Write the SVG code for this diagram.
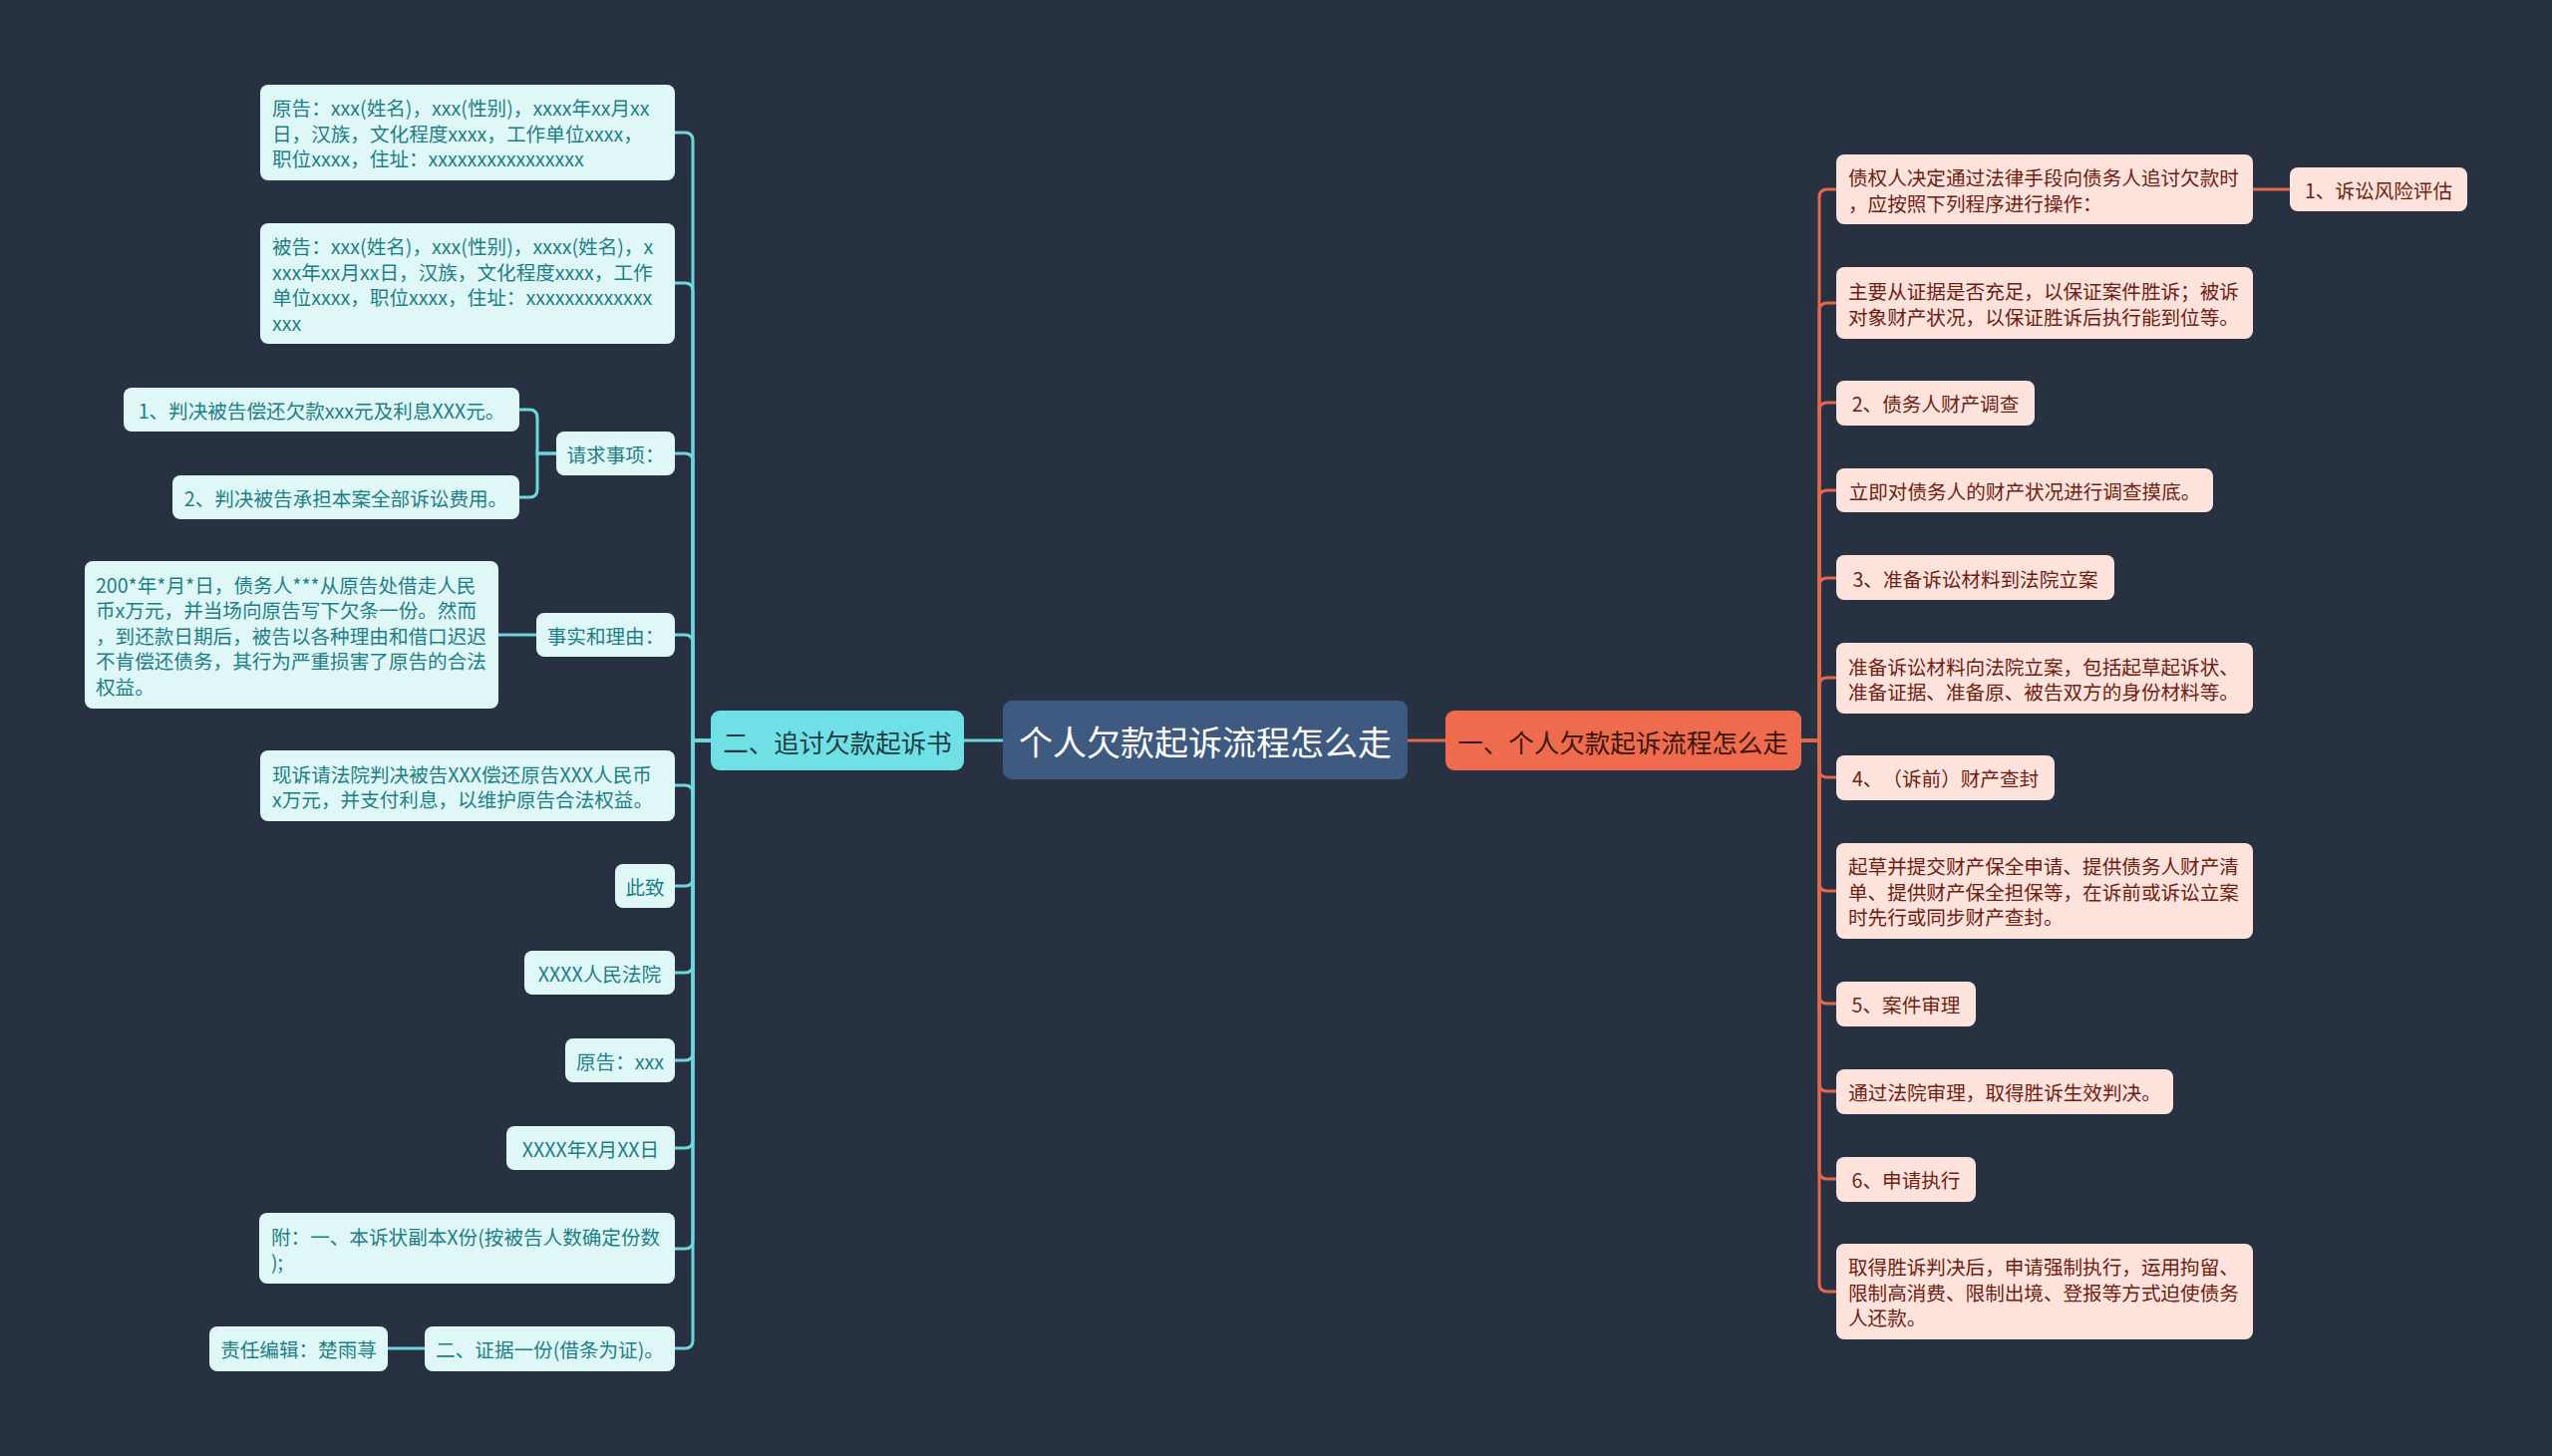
<svg xmlns="http://www.w3.org/2000/svg" width="2560" height="1461" viewBox="0 0 2560 1461">
<style>
text{font-family:"Microsoft YaHei","Noto Sans CJK SC","Noto Sans",sans-serif;dominant-baseline:central;text-spacing-trim:space-all}
.lc{fill:none;stroke:#6dd7e0;stroke-width:3}
.rc{fill:none;stroke:#e2694d;stroke-width:3}
.lbox{fill:#e0f7f8}
.rbox{fill:#fde3dc}
.lt{font-size:19.6px;fill:#1d7f86}
.rt{font-size:19.6px;fill:#6e2112}
.m{text-anchor:middle}
</style>
<rect width="2560" height="1461" fill="#283141"/>
<g id="connectors">
<path class="lc" d="M1006,743 H967"/>
<path class="rc" d="M1412,743 H1450"/>
<path class="lc" d="M713,743 H695 V141 Q695,133 687,133 H677"/>
<path class="lc" d="M713,743 H695 V292 Q695,284 687,284 H677"/>
<path class="lc" d="M713,743 H695 V463 Q695,455 687,455 H677"/>
<path class="lc" d="M713,743 H695 V645 Q695,637 687,637 H677"/>
<path class="lc" d="M713,743 H695 V796 Q695,788 687,788 H677"/>
<path class="lc" d="M713,743 H695 V881 Q695,889 687,889 H677"/>
<path class="lc" d="M713,743 H695 V968 Q695,976 687,976 H677"/>
<path class="lc" d="M713,743 H695 V1056 Q695,1064 687,1064 H677"/>
<path class="lc" d="M713,743 H695 V1144 Q695,1152 687,1152 H677"/>
<path class="lc" d="M713,743 H695 V1245 Q695,1253 687,1253 H677"/>
<path class="lc" d="M713,743 H695 V1345 Q695,1353 687,1353 H677"/>
<path class="lc" d="M558,455 H539 V419 Q539,411 531,411 H521"/>
<path class="lc" d="M558,455 H539 V491 Q539,499 531,499 H521"/>
<path class="lc" d="M538,637 H500"/>
<path class="lc" d="M426,1353 H389"/>
<path class="rc" d="M1807,743 H1825 V198 Q1825,190 1833,190 H1842"/>
<path class="rc" d="M1807,743 H1825 V312 Q1825,304 1833,304 H1842"/>
<path class="rc" d="M1807,743 H1825 V412 Q1825,404 1833,404 H1842"/>
<path class="rc" d="M1807,743 H1825 V500 Q1825,492 1833,492 H1842"/>
<path class="rc" d="M1807,743 H1825 V588 Q1825,580 1833,580 H1842"/>
<path class="rc" d="M1807,743 H1825 V688 Q1825,680 1833,680 H1842"/>
<path class="rc" d="M1807,743 H1825 V772 Q1825,780 1833,780 H1842"/>
<path class="rc" d="M1807,743 H1825 V886 Q1825,894 1833,894 H1842"/>
<path class="rc" d="M1807,743 H1825 V999 Q1825,1007 1833,1007 H1842"/>
<path class="rc" d="M1807,743 H1825 V1087 Q1825,1095 1833,1095 H1842"/>
<path class="rc" d="M1807,743 H1825 V1175 Q1825,1183 1833,1183 H1842"/>
<path class="rc" d="M1807,743 H1825 V1288 Q1825,1296 1833,1296 H1842"/>
<path class="rc" d="M2260,190 H2297"/>
</g>
<g id="center">
<rect x="1006" y="703" width="406" height="79" rx="9" fill="#3e5a80"/>
<text class="m" x="1209" y="743" font-size="34" fill="#ffffff">个人欠款起诉流程怎么走</text>
</g>
<g id="left-main">
<rect x="713" y="713" width="254" height="60" rx="9" fill="#6fe0e5"/>
<text class="m" x="840" y="743" font-size="25.5" fill="#1e3c44">二、追讨欠款起诉书</text>
</g>
<g id="right-main">
<rect x="1450" y="713" width="357" height="60" rx="9" fill="#ee6b4d"/>
<text class="m" x="1628" y="743" font-size="25.5" fill="#3b160d">一、个人欠款起诉流程怎么走</text>
</g>
<g id="l1">
<rect class="lbox" x="261" y="85" width="416" height="96" rx="8"/>
<text class="lt" x="273" y="107.5">原告：xxx(姓名)，xxx(性别)，xxxx年xx月xx</text>
<text class="lt" x="273" y="133">日，汉族，文化程度xxxx，工作单位xxxx，</text>
<text class="lt" x="273" y="158.5">职位xxxx，住址：xxxxxxxxxxxxxxxx</text>
</g>
<g id="l2">
<rect class="lbox" x="261" y="224" width="416" height="121" rx="8"/>
<text class="lt" x="273" y="246.5">被告：xxx(姓名)，xxx(性别)，xxxx(姓名)，x</text>
<text class="lt" x="273" y="272">xxx年xx月xx日，汉族，文化程度xxxx，工作</text>
<text class="lt" x="273" y="297.5">单位xxxx，职位xxxx，住址：xxxxxxxxxxxxx</text>
<text class="lt" x="273" y="323">xxx</text>
</g>
<g id="l3">
<rect class="lbox" x="558" y="433" width="119" height="44" rx="8"/>
<text class="lt m" x="617.5" y="455">请求事项：</text>
</g>
<g id="l3a">
<rect class="lbox" x="124" y="389" width="397" height="44" rx="8"/>
<text class="lt m" x="322.5" y="411">1、判决被告偿还欠款xxx元及利息XXX元。</text>
</g>
<g id="l3b">
<rect class="lbox" x="173" y="477" width="348" height="44" rx="8"/>
<text class="lt m" x="347" y="499">2、判决被告承担本案全部诉讼费用。</text>
</g>
<g id="l4">
<rect class="lbox" x="538" y="615" width="139" height="44" rx="8"/>
<text class="lt m" x="607.5" y="637">事实和理由：</text>
</g>
<g id="l4a">
<rect class="lbox" x="85" y="563" width="415" height="148" rx="8"/>
<text class="lt" x="96" y="586">200*年*月*日，债务人***从原告处借走人民</text>
<text class="lt" x="96" y="611.5">币x万元，并当场向原告写下欠条一份。然而</text>
<text class="lt" x="96" y="637">，到还款日期后，被告以各种理由和借口迟迟</text>
<text class="lt" x="96" y="662.5">不肯偿还债务，其行为严重损害了原告的合法</text>
<text class="lt" x="96" y="688">权益。</text>
</g>
<g id="l5">
<rect class="lbox" x="261" y="753" width="416" height="71" rx="8"/>
<text class="lt" x="273" y="776">现诉请法院判决被告XXX偿还原告XXX人民币</text>
<text class="lt" x="273" y="801.5">x万元，并支付利息，以维护原告合法权益。</text>
</g>
<g id="l6">
<rect class="lbox" x="617" y="867" width="60" height="44" rx="8"/>
<text class="lt m" x="647" y="889">此致</text>
</g>
<g id="l7">
<rect class="lbox" x="526" y="954" width="151" height="44" rx="8"/>
<text class="lt m" x="601.5" y="976">XXXX人民法院</text>
</g>
<g id="l8">
<rect class="lbox" x="567" y="1042" width="110" height="44" rx="8"/>
<text class="lt m" x="622" y="1064">原告：xxx</text>
</g>
<g id="l9">
<rect class="lbox" x="508" y="1130" width="169" height="44" rx="8"/>
<text class="lt m" x="592.5" y="1152">XXXX年X月XX日</text>
</g>
<g id="l10">
<rect class="lbox" x="260" y="1217" width="417" height="71" rx="8"/>
<text class="lt" x="272" y="1240">附：一、本诉状副本X份(按被告人数确定份数</text>
<text class="lt" x="272" y="1265.5">);</text>
</g>
<g id="l11">
<rect class="lbox" x="426" y="1331" width="251" height="45" rx="8"/>
<text class="lt m" x="551.5" y="1353">二、证据一份(借条为证)。</text>
</g>
<g id="l11a">
<rect class="lbox" x="210" y="1331" width="179" height="45" rx="8"/>
<text class="lt m" x="299.5" y="1353">责任编辑：楚雨荨</text>
</g>
<g id="r1">
<rect class="rbox" x="1842" y="155" width="418" height="70" rx="8"/>
<text class="rt" x="1854" y="177.5">债权人决定通过法律手段向债务人追讨欠款时</text>
<text class="rt" x="1854" y="203">，应按照下列程序进行操作：</text>
</g>
<g id="r1a">
<rect class="rbox" x="2297" y="168" width="178" height="44" rx="8"/>
<text class="rt m" x="2386" y="190">1、诉讼风险评估</text>
</g>
<g id="r2">
<rect class="rbox" x="1842" y="268" width="418" height="72" rx="8"/>
<text class="rt" x="1854" y="291.5">主要从证据是否充足，以保证案件胜诉；被诉</text>
<text class="rt" x="1854" y="317">对象财产状况，以保证胜诉后执行能到位等。</text>
</g>
<g id="r3">
<rect class="rbox" x="1842" y="382" width="199" height="45" rx="8"/>
<text class="rt m" x="1941.5" y="404">2、债务人财产调查</text>
</g>
<g id="r4">
<rect class="rbox" x="1842" y="470" width="378" height="44" rx="8"/>
<text class="rt m" x="2031" y="492">立即对债务人的财产状况进行调查摸底。</text>
</g>
<g id="r5">
<rect class="rbox" x="1842" y="557" width="279" height="45" rx="8"/>
<text class="rt m" x="1981.5" y="580">3、准备诉讼材料到法院立案</text>
</g>
<g id="r6">
<rect class="rbox" x="1842" y="645" width="418" height="71" rx="8"/>
<text class="rt" x="1854" y="668">准备诉讼材料向法院立案，包括起草起诉状、</text>
<text class="rt" x="1854" y="693.5">准备证据、准备原、被告双方的身份材料等。</text>
</g>
<g id="r7">
<rect class="rbox" x="1842" y="758" width="219" height="45" rx="8"/>
<text class="rt m" x="1951.5" y="780">4、（诉前）财产查封</text>
</g>
<g id="r8">
<rect class="rbox" x="1842" y="846" width="418" height="96" rx="8"/>
<text class="rt" x="1854" y="868.5">起草并提交财产保全申请、提供债务人财产清</text>
<text class="rt" x="1854" y="894">单、提供财产保全担保等，在诉前或诉讼立案</text>
<text class="rt" x="1854" y="919.5">时先行或同步财产查封。</text>
</g>
<g id="r9">
<rect class="rbox" x="1842" y="985" width="140" height="45" rx="8"/>
<text class="rt m" x="1912" y="1007">5、案件审理</text>
</g>
<g id="r10">
<rect class="rbox" x="1842" y="1073" width="338" height="45" rx="8"/>
<text class="rt m" x="2011" y="1095">通过法院审理，取得胜诉生效判决。</text>
</g>
<g id="r11">
<rect class="rbox" x="1842" y="1161" width="140" height="45" rx="8"/>
<text class="rt m" x="1912" y="1183">6、申请执行</text>
</g>
<g id="r12">
<rect class="rbox" x="1842" y="1248" width="418" height="96" rx="8"/>
<text class="rt" x="1854" y="1270.5">取得胜诉判决后，申请强制执行，运用拘留、</text>
<text class="rt" x="1854" y="1296">限制高消费、限制出境、登报等方式迫使债务</text>
<text class="rt" x="1854" y="1321.5">人还款。</text>
</g>
</svg>
